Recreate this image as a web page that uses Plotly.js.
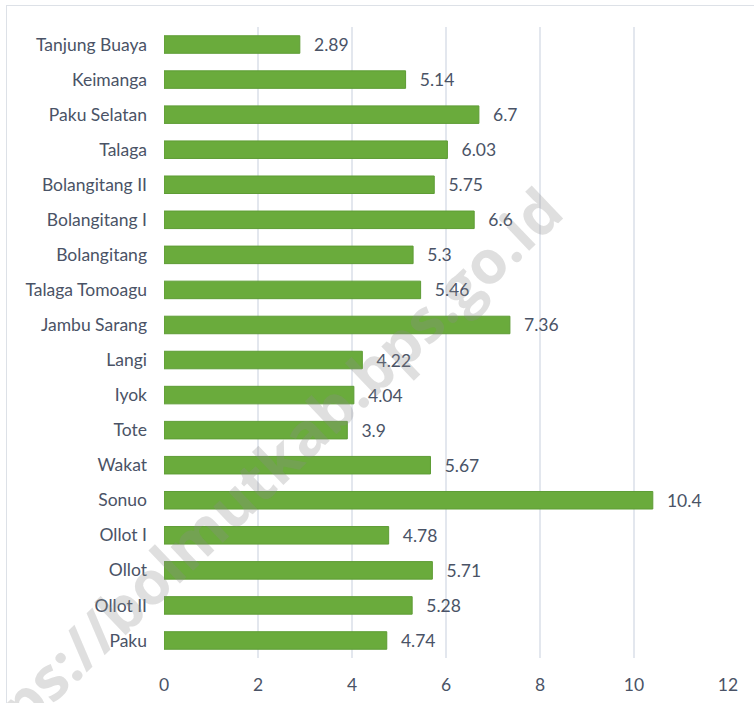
<!DOCTYPE html>
<html>
<head>
<meta charset="utf-8">
<script src="https://cdn.plot.ly/plotly-3.0.1.min.js"></script>
<style>
html,body{margin:0;padding:0;overflow:hidden;background:#fff;}
#chart{width:754px;height:703px;}
#frame{position:absolute;left:6px;top:5px;width:800px;height:800px;border:1.5px solid #dde1e7;pointer-events:none;}
</style>
</head>
<body>
<div id="chart"></div>
<div id="frame"></div>
<script>
const categories = ["Tanjung Buaya","Keimanga","Paku Selatan","Talaga","Bolangitang II","Bolangitang I","Bolangitang","Talaga Tomoagu","Jambu Sarang","Langi","Iyok","Tote","Wakat","Sonuo","Ollot I","Ollot","Ollot II","Paku"];
const values = [2.89,5.14,6.7,6.03,5.75,6.6,5.3,5.46,7.36,4.22,4.04,3.9,5.67,10.4,4.78,5.71,5.28,4.74];
const valueLabels = ["2.89","5.14","6.7","6.03","5.75","6.6","5.3","5.46","7.36","4.22","4.04","3.9","5.67","10.4","4.78","5.71","5.28","4.74"];
const xTicks = [0,2,4,6,8,10,12];
const watermark = "https://bolmutkab.bps.go.id";

const textColor = "#4a5366";
const fontFam = "Lato, 'Open Sans', sans-serif";
const fs = 17.5;

const trace = {
  type: "bar",
  orientation: "h",
  y: categories,
  x: values,
  text: valueLabels.map(v => "\u00a0\u00a0\u2009" + v),
  textposition: "outside",
  constraintext: "none",
  cliponaxis: false,
  textfont: {family: fontFam, size: fs, color: textColor},
  outsidetextfont: {family: fontFam, size: fs, color: textColor},
  marker: {color: "#6aab3c", line: {color: "#5e9c35", width: 1}},
  hoverinfo: "none"
};

const layout = {
  width: 754, height: 703,
  margin: {l: 164, r: 26, t: 27, b: 45},
  paper_bgcolor: "#ffffff",
  plot_bgcolor: "#ffffff",
  showlegend: false,
  bargap: 0.5,
  uniformtext: {mode: false},
  font: {family: fontFam, size: fs, color: textColor},
  xaxis: {
    range: [0, 12],
    tickvals: xTicks,
    ticktext: xTicks.map(String),
    showgrid: true,
    gridcolor: "#e3e7ee",
    gridwidth: 1.5,
    zeroline: false,
    showline: false,
    ticks: "",
    ticklabelstandoff: 14,
    tickfont: {family: fontFam, size: fs, color: textColor},
    fixedrange: true
  },
  yaxis: {
    type: "category",
    autorange: "reversed",
    showgrid: false,
    zeroline: false,
    showline: false,
    ticks: "",
    ticklabelstandoff: 16,
    tickfont: {family: fontFam, size: fs, color: textColor},
    fixedrange: true
  },
  annotations: [{
    text: "<b>" + watermark + "</b>",
    xref: "paper", yref: "paper",
    x: 0.147, y: 0.269,
    xanchor: "center", yanchor: "middle",
    showarrow: false,
    textangle: -43.6,
    font: {family: "'Open Sans', sans-serif", size: 60, color: "rgba(140,140,140,0.28)"}
  }]
};

Plotly.newPlot("chart", [trace], layout, {displayModeBar: false, staticPlot: true});
</script>
</body>
</html>
